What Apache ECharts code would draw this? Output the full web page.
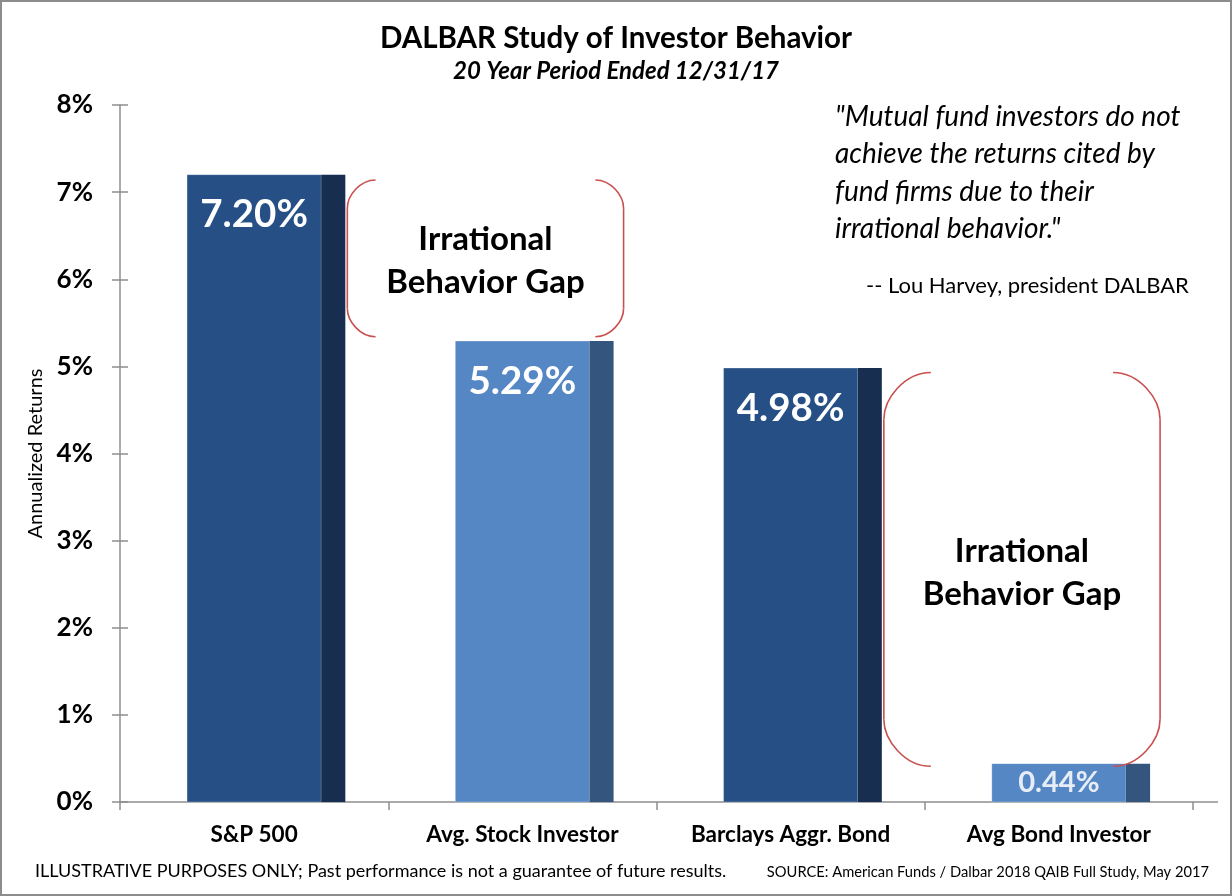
<!DOCTYPE html>
<html>
<head>
<meta charset="utf-8">
<script src="https://cdn.jsdelivr.net/npm/echarts@6/dist/echarts.min.js"></script>
<style>
  html, body { margin: 0; padding: 0; background: #ffffff; }
  #chart { width: 1232px; height: 896px; }
</style>
</head>
<body>
<div id="chart"></div>
<script>
// ---- data ----
const categories = ['S&P 500', 'Avg. Stock Investor', 'Barclays Aggr. Bond', 'Avg Bond Investor'];
const returns = [7.20, 5.29, 4.98, 0.44];
const yTicks = [0, 1, 2, 3, 4, 5, 6, 7, 8];
// bracket annotations: [starting category index, upper value, lower value]
const gaps = [[0, 7.14, 5.34], [2, 4.93, 0.41]];
const gapLabel = 'Irrational\nBehavior Gap';
const quoteLines = [
  '"Mutual fund investors do not',
  'achieve the returns cited by',
  'fund firms due to their',
  'irrational behavior."'
];
const quoteAuthor = '-- Lou Harvey, president DALBAR';
const footLeft = 'ILLUSTRATIVE PURPOSES ONLY; Past performance is not a guarantee of future results.';
const footRight = 'SOURCE: American Funds / Dalbar 2018 QAIB Full Study, May 2017';

// ---- styles ----
const FONT = 'Lato, "Open Sans", sans-serif';
const faceColors = ['#254f85', '#5587c5', '#254f85', '#5587c5'];
const sideColors = ['#172e50', '#34557e', '#172e50', '#34557e'];
const labelColors = ['#ffffff', '#ffffff', '#ffffff', '#e6edf6'];
const AXIS_COLOR = '#8f8f8f';
const BRACKET_COLOR = '#c9504f';

const chart = echarts.init(document.getElementById('chart'), null, { renderer: 'canvas' });

function renderBar(params, api) {
  const idx = api.value(0);
  const v = api.value(1);
  const top = api.coord([idx, v]);
  const base = api.coord([idx, 0]);
  const band = api.size([1, 0])[0];
  const fw = band * 0.5;
  const sw = band * 0.09;
  const x0 = top[0] - fw / 2;
  const h = base[1] - top[1];
  const off = Math.min(40, h / 2);
  const fs = Math.min(38.5, h * 0.76);
  return {
    type: 'group',
    children: [
      { type: 'rect', shape: { x: x0, y: top[1], width: fw, height: h },
        style: { fill: faceColors[idx], stroke: 'rgba(255,255,255,0.25)', lineWidth: 1 } },
      { type: 'rect', shape: { x: x0 + fw, y: top[1], width: sw, height: h },
        style: { fill: sideColors[idx] } },
      { type: 'text', x: x0 + fw / 2, y: top[1] + off,
        style: { text: v.toFixed(2) + '%', fill: labelColors[idx], font: 'bold ' + fs + 'px ' + FONT,
                 align: 'center', verticalAlign: 'middle' } }
    ]
  };
}

function renderGap(params, api) {
  const i = api.value(0);
  const hi = api.value(1);
  const lo = api.value(2);
  const band = api.size([1, 0])[0];
  const fw = band * 0.5, sw = band * 0.09;
  const c1 = api.coord([i, hi]);
  const c2 = api.coord([i + 1, lo]);
  const xl = c1[0] - fw / 2 + fw + sw + 2;
  const xr = c2[0] - fw / 2 + fw + sw + 10;
  const yt = c1[1];
  const yb = c2[1];
  const r = Math.min(47, (yb - yt) * 0.18);
  const k = 0.448;
  const st = { stroke: BRACKET_COLOR, lineWidth: 1.6, fill: null };
  const pieces = [
    { type: 'bezierCurve', shape: { x1: xl + r, y1: yt, cpx1: xl + r * k, cpy1: yt, cpx2: xl, cpy2: yt + r * (1 - k), x2: xl, y2: yt + r }, style: st },
    { type: 'line', shape: { x1: xl, y1: yt + r, x2: xl, y2: yb - r }, style: st },
    { type: 'bezierCurve', shape: { x1: xl, y1: yb - r, cpx1: xl, cpy1: yb - r * (1 - k), cpx2: xl + r * k, cpy2: yb, x2: xl + r, y2: yb }, style: st },
    { type: 'bezierCurve', shape: { x1: xr - r, y1: yt, cpx1: xr - r * k, cpy1: yt, cpx2: xr, cpy2: yt + r * (1 - k), x2: xr, y2: yt + r }, style: st },
    { type: 'line', shape: { x1: xr, y1: yt + r, x2: xr, y2: yb - r }, style: st },
    { type: 'bezierCurve', shape: { x1: xr, y1: yb - r, cpx1: xr, cpy1: yb - r * (1 - k), cpx2: xr - r * k, cpy2: yb, x2: xr - r, y2: yb }, style: st },
    { type: 'text', x: (xl + xr) / 2, y: (yt + yb) / 2 + 3,
      style: { text: gapLabel, font: 'bold 33px ' + FONT, fill: '#000000', align: 'center',
               verticalAlign: 'middle', lineHeight: 43 } }
  ];
  return { type: 'group', children: pieces };
}

const quoteGraphics = quoteLines.map((t, i) => ({
  type: 'text', left: 835, top: 120 + i * 37.3 - 17,
  style: { text: t, font: 'italic 28px ' + FONT, fill: '#000000' }
}));

const option = {
  backgroundColor: '#ffffff',
  animation: false,
  title: [
    { text: 'DALBAR Study of Investor Behavior', left: 'center', top: 23, padding: 0,
      textStyle: { fontFamily: FONT, fontWeight: 'bold', fontSize: 29.5, color: '#000000' } },
    { text: '20 Year Period Ended 12/31/17', left: 'center', top: 59, padding: 0,
      textStyle: { fontFamily: FONT, fontWeight: 'bold', fontStyle: 'italic', fontSize: 24, color: '#000000' } }
  ],
  grid: { left: 120, right: 39, top: 105, bottom: 94, containLabel: false },
  xAxis: {
    type: 'category',
    data: categories,
    boundaryGap: true,
    axisLine: { lineStyle: { color: AXIS_COLOR, width: 1.5 } },
    axisTick: { show: true, length: 8, lineStyle: { color: AXIS_COLOR, width: 1.5 } },
    axisLabel: { margin: 21, color: '#000000', fontFamily: FONT, fontWeight: 'bold', fontSize: 22.5 }
  },
  yAxis: [
    {
      type: 'value', min: 0, max: 8, interval: 1,
      name: 'Annualized Returns', nameLocation: 'middle', nameGap: 68, nameRotate: 90,
      nameTextStyle: { fontFamily: FONT, fontSize: 20, color: '#000000' },
      axisLine: { show: true, lineStyle: { color: AXIS_COLOR, width: 1.5 } },
      axisTick: { show: true, length: 8, lineStyle: { color: AXIS_COLOR, width: 1.5 } },
      splitLine: { show: false },
      axisLabel: { margin: 27, color: '#000000', fontFamily: FONT, fontWeight: 'bold', fontSize: 26,
                   formatter: v => yTicks.indexOf(v) >= 0 ? v + '%' : '' }
    },
    {
      type: 'value', min: 0, max: 8, interval: 1, position: 'left',
      axisLine: { show: false },
      axisTick: { show: true, inside: true, length: 8, lineStyle: { color: AXIS_COLOR, width: 1.5 } },
      axisLabel: { show: false },
      splitLine: { show: false }
    }
  ],
  series: [
    {
      type: 'custom', name: 'Annualized Returns',
      renderItem: renderBar,
      encode: { x: 0, y: 1 },
      data: returns.map((v, i) => [i, v]),
      z: 3
    },
    {
      type: 'custom', name: 'Gap',
      renderItem: renderGap,
      encode: { x: 0, y: [1, 2] },
      data: gaps,
      z: 4
    }
  ],
  graphic: [
    { type: 'rect', shape: { x: 1, y: 1, width: 1230, height: 894 },
      style: { fill: null, stroke: '#8c8c8c', lineWidth: 2 }, z: 10 },
    { type: 'line', shape: { x1: 1193, y1: 802, x2: 1218, y2: 802 },
      style: { stroke: AXIS_COLOR, lineWidth: 1.5 } },
    ...quoteGraphics,
    { type: 'text', left: 866, top: 275,
      style: { text: quoteAuthor, font: '22px ' + FONT, fill: '#000000' } },
    { type: 'text', left: 35, top: 862,
      style: { text: footLeft, font: '18px ' + FONT, fill: '#000000' } },
    { type: 'text', right: 23, top: 865,
      style: { text: footRight, font: '14.7px ' + FONT, fill: '#000000' } }
  ]
};

chart.setOption(option);
</script>
</body>
</html>
